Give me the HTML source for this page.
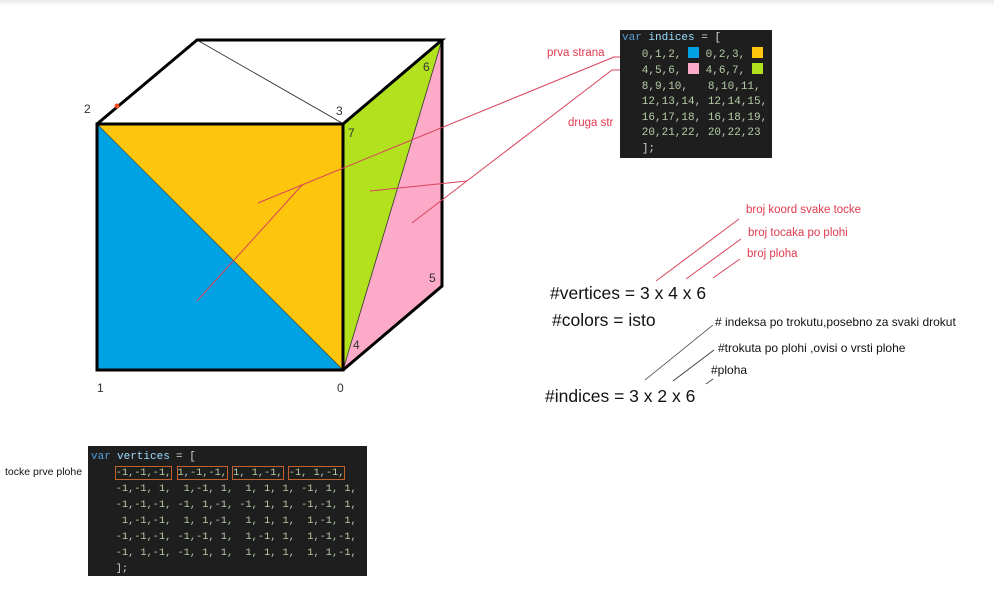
<!DOCTYPE html>
<html><head><meta charset="utf-8">
<style>
body{margin:0;background:#fff;width:994px;height:589px;overflow:hidden;position:relative;font-family:"Liberation Sans",sans-serif}
.code{position:absolute;background:#1e1e1e;font-family:"Liberation Mono",monospace;font-size:11px;color:#b5cea8;white-space:pre;line-height:15.5px;overflow:hidden}
.kw{color:#569cd6}.id{color:#9cdcfe}.op{color:#d4d4d4}
.sw{display:inline-block;width:11px;height:11px;vertical-align:-1px}
.box{outline:1px solid #c0622a;outline-offset:0}
</style></head><body>
<div style="position:absolute;left:0;top:0;width:994px;height:6px;background:linear-gradient(#e8e8e8,#fff)"></div>
<svg width="994" height="589" style="position:absolute;left:0;top:0">
<polygon points="97,124 197,40 442,40 343,124" fill="#fff"/>
<polygon points="97,124 97,370 343,370" fill="#00a2e3"/>
<polygon points="97,124 343,124 343,370" fill="#fdc60c"/>
<polygon points="343,124 442,40 343,370" fill="#b2e21e"/>
<polygon points="442,40 442,286 343,370" fill="#fcaac8"/>
<line x1="97" y1="124" x2="343" y2="370" stroke="#333" stroke-width="0.6"/>
<line x1="442" y1="40" x2="343" y2="370" stroke="#333" stroke-width="0.8"/>
<line x1="197" y1="40" x2="342" y2="123" stroke="#222" stroke-width="0.8"/>
<g fill="none" stroke="#000" stroke-width="3" stroke-linejoin="miter">
<rect x="97" y="124" width="246" height="246"/>
<polyline points="97,124 197,40 442,40 343,124"/>
<polyline points="442,40 442,286 343,370"/>
</g>
<circle cx="117" cy="106" r="2.5" fill="#f04a1a"/>
<g stroke="#d9425a" stroke-width="1" fill="none">
<line x1="258" y1="203" x2="614" y2="57"/>
<line x1="197" y1="301" x2="303" y2="184"/>
<line x1="370" y1="191" x2="467" y2="181"/>
<line x1="412" y1="223" x2="612" y2="70"/>
<line x1="613" y1="57" x2="632" y2="57"/>
<line x1="612" y1="70" x2="632" y2="70"/>
<line x1="656" y1="281" x2="739" y2="219"/>
<line x1="686" y1="279" x2="741" y2="239"/>
<line x1="713" y1="278" x2="740" y2="259"/>
</g>
<g stroke="#333" stroke-width="0.8">
<line x1="645" y1="380" x2="713" y2="325"/>
<line x1="673" y1="381" x2="714" y2="350"/>
<line x1="706" y1="384" x2="713" y2="379"/>
</g>
<g font-size="12" fill="#333" font-family="Liberation Sans,sans-serif">
<text x="84" y="113">2</text><text x="336" y="115">3</text><text x="348" y="137">7</text>
<text x="423" y="71">6</text><text x="429" y="282">5</text><text x="353" y="349">4</text>
<text x="97" y="392">1</text><text x="337" y="392">0</text>
</g>
<g fill="#e03a4e" font-size="11.5">
<text x="547" y="56">prva strana</text><text x="568" y="126">druga str</text>
<text x="746" y="213">broj koord svake tocke</text>
<text x="748" y="236">broj tocaka po plohi</text>
<text x="747" y="257">broj ploha</text>
</g>
<g fill="#111" font-size="17.5">
<text x="550" y="299">#vertices = 3 x 4 x 6</text>
<text x="552" y="326">#colors = isto</text>
<text x="545" y="402">#indices = 3 x 2 x 6</text>
</g>
<g fill="#111" font-size="12">
<text x="715" y="326">#  indeksa po trokutu,posebno za svaki drokut</text>
<text x="718" y="352">#trokuta po plohi ,ovisi o vrsti plohe</text>
<text x="711" y="374">#ploha</text>
<text x="5" y="475" font-size="10.5">tocke prve plohe</text>
</g>
</svg>
<div class="code" style="left:620px;top:30px;width:150px;height:127px;padding:1px 0 0 2px"><span class="kw">var</span> <span class="id">indices</span> <span class="op">= [</span>
   0,1,2, <span class="sw" style="background:#00a2e3"></span> 0,2,3, <span class="sw" style="background:#fdc60c"></span>
   4,5,6, <span class="sw" style="background:#fcaac8"></span> 4,6,7, <span class="sw" style="background:#b2e21e"></span>
   8,9,10,   8,10,11,
   12,13,14, 12,14,15,
   16,17,18, 16,18,19,
   20,21,22, 20,22,23
   <span class="op">];</span></div>
<div class="code" style="left:88px;top:446px;width:276px;height:127px;padding:3px 0 0 3px;line-height:16px;font-size:10.3px"><span class="kw" style="font-size:11px">var</span> <span class="id" style="font-size:11px">vertices</span> <span class="op" style="font-size:11px">= [</span>
    <span class="box">-1,-1,-1,</span> <span class="box">1,-1,-1,</span> <span class="box">1, 1,-1,</span> <span class="box">-1, 1,-1,</span>
    -1,-1, 1,  1,-1, 1,  1, 1, 1, -1, 1, 1,
    -1,-1,-1, -1, 1,-1, -1, 1, 1, -1,-1, 1,
     1,-1,-1,  1, 1,-1,  1, 1, 1,  1,-1, 1,
    -1,-1,-1, -1,-1, 1,  1,-1, 1,  1,-1,-1,
    -1, 1,-1, -1, 1, 1,  1, 1, 1,  1, 1,-1,
    <span class="op">];</span></div>
</body></html>
